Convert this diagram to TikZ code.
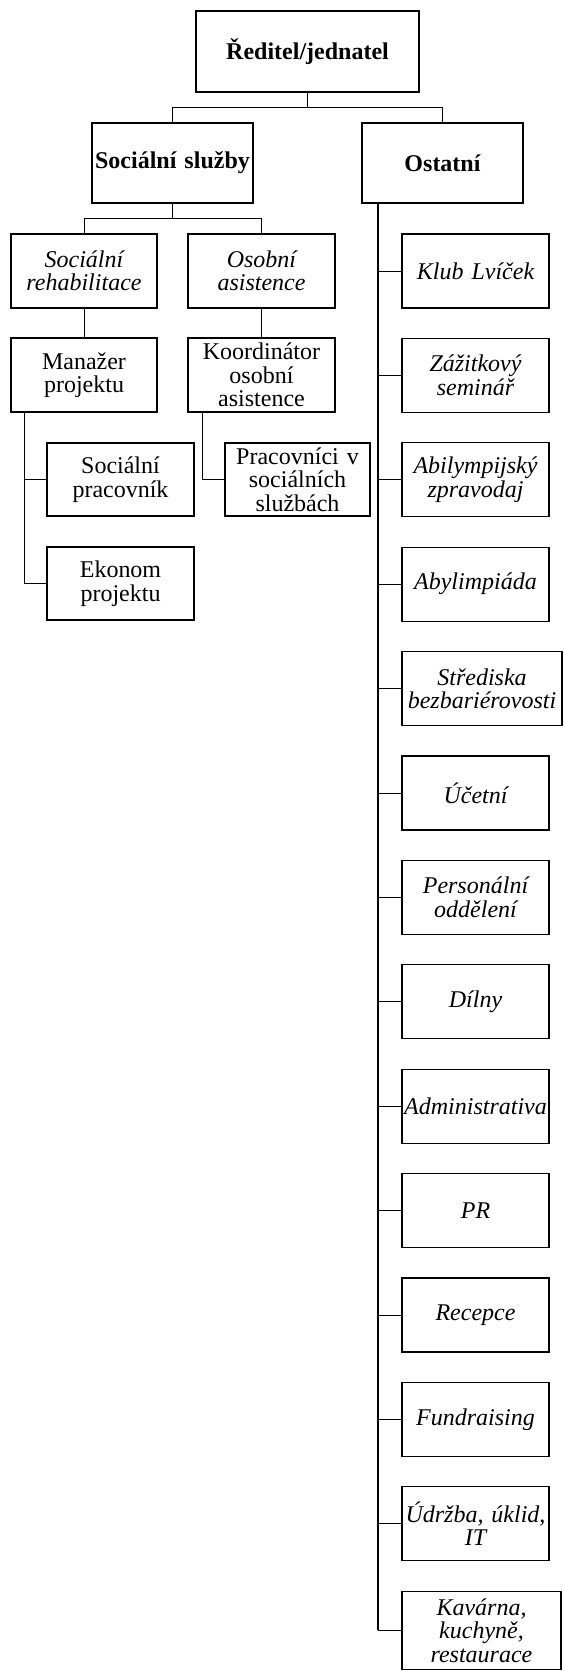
\documentclass[tikz,border=0pt]{standalone}
\usepackage{fontspec}
\setmainfont{Liberation Serif}
\begin{document}
\begin{tikzpicture}[x=1pt,y=-1pt,
  box/.style={draw, line width=1.1pt, inner sep=0pt, align=center,
    font=\fontsize{24}{23.5}\selectfont},
  boxsize/.style 2 args={minimum width=#1pt, text width=#1pt, minimum height=#2pt},
  unit/.style={box, boxsize={147}{74}, font=\fontsize{24}{23.5}\selectfont\itshape},
  conn/.style={line width=0.9pt},
  trunk/.style={line width=2pt}]
\useasboundingbox (0,0) rectangle (563,1671);

% top levels
\node[box, boxsize={223}{81}] (dir) at (307.5,51.5) {\bfseries Ředitel/jednatel};
\node[box, boxsize={161}{80}] (ss)  at (172.5,163) {\bfseries Sociální služby};
\node[box, boxsize={161}{80}] (ost) at (442.5,163) {\bfseries Ostatní};

% social services branch
\node[box, boxsize={146}{74}, font=\fontsize{24}{23.5}\selectfont\itshape] (rehab) at (84,271) {Sociální\\rehabilitace};
\node[box, boxsize={147}{74}, font=\fontsize{24}{23.5}\selectfont\itshape] (osob) at (261.5,271) {Osobní\\asistence};
\node[box, boxsize={146}{74}] (man)   at (84,375)    {Manažer\\projektu};
\node[box, boxsize={147}{74}] (koord) at (261.5,375) {Koordinátor\\osobní\\asistence};
\node[box, boxsize={147}{73}] (socprac) at (120.5,479.5) {Sociální\\pracovník};
\node[box, boxsize={145}{73}] (prac)    at (297.5,479.5) {Pracovníci v\\sociálních\\službách};
\node[box, boxsize={147}{73}] (ekon)    at (120.5,583.5) {Ekonom\\projektu};

% other units
\node[unit] (klub)  at (475.5,271.0)  {Klub Lvíček};
\node[unit] (zazit) at (475.5,375.4)  {Zážitkový\\seminář};
\node[unit] (zprav) at (475.5,479.8)  {Abilympijský\\zpravodaj};
\node[unit] (abyl)  at (475.5,584.2)  {Abylimpiáda};
\node[unit, boxsize={160}{74}] (stred) at (482,688.6) {Střediska\\\makebox[\linewidth]{bezbariérovosti}};
\node[unit] (ucet)  at (475.5,793.0)  {Účetní};
\node[unit] (pers)  at (475.5,897.4)  {Personální\\oddělení};
\node[unit] (diln)  at (475.5,1001.8) {Dílny};
\node[unit] (admin) at (475.5,1106.2) {\makebox[\linewidth]{Administrativa}};
\node[unit] (pr)    at (475.5,1210.6) {PR};
\node[unit] (recep) at (475.5,1315.0) {Recepce};
\node[unit] (fund)  at (475.5,1419.4) {Fundraising};
\node[unit] (udrz)  at (475.5,1523.8) {\makebox[\linewidth]{Údržba, úklid,}\\IT};
\node[unit, boxsize={159}{78.5}] (kav) at (481.5,1630.3) {Kavárna,\\kuchyně,\\restaurace};

% connectors
\draw[conn] (dir.south) -- ++(0,15) -| (ss.north);
\draw[conn] (dir.south) ++(0,15) -| (ost.north);
\draw[conn] (ss.south) -- ++(0,15) -| (rehab.north);
\draw[conn] (ss.south) ++(0,15) -| (osob.north);
\draw[conn] (rehab.south) -- (man.north);
\draw[conn] (osob.south) -- (koord.north);

\coordinate (mb) at ([xshift=14pt]man.south west);
\draw[conn] (mb) |- (ekon.west);
\draw[conn] (mb) |- (socprac.west);
\coordinate (kb) at ([xshift=15pt]koord.south west);
\draw[conn] (kb) |- (prac.west);

\coordinate (ob) at ([xshift=16.5pt]ost.south west);
\draw[trunk] (ob) -- (ob |- kav.west);
\foreach \n in {klub,zazit,zprav,abyl,stred,ucet,pers,diln,admin,pr,recep,fund,udrz,kav}
  \draw[conn] (ob |- \n.west) -- (\n.west);
\end{tikzpicture}
\end{document}
